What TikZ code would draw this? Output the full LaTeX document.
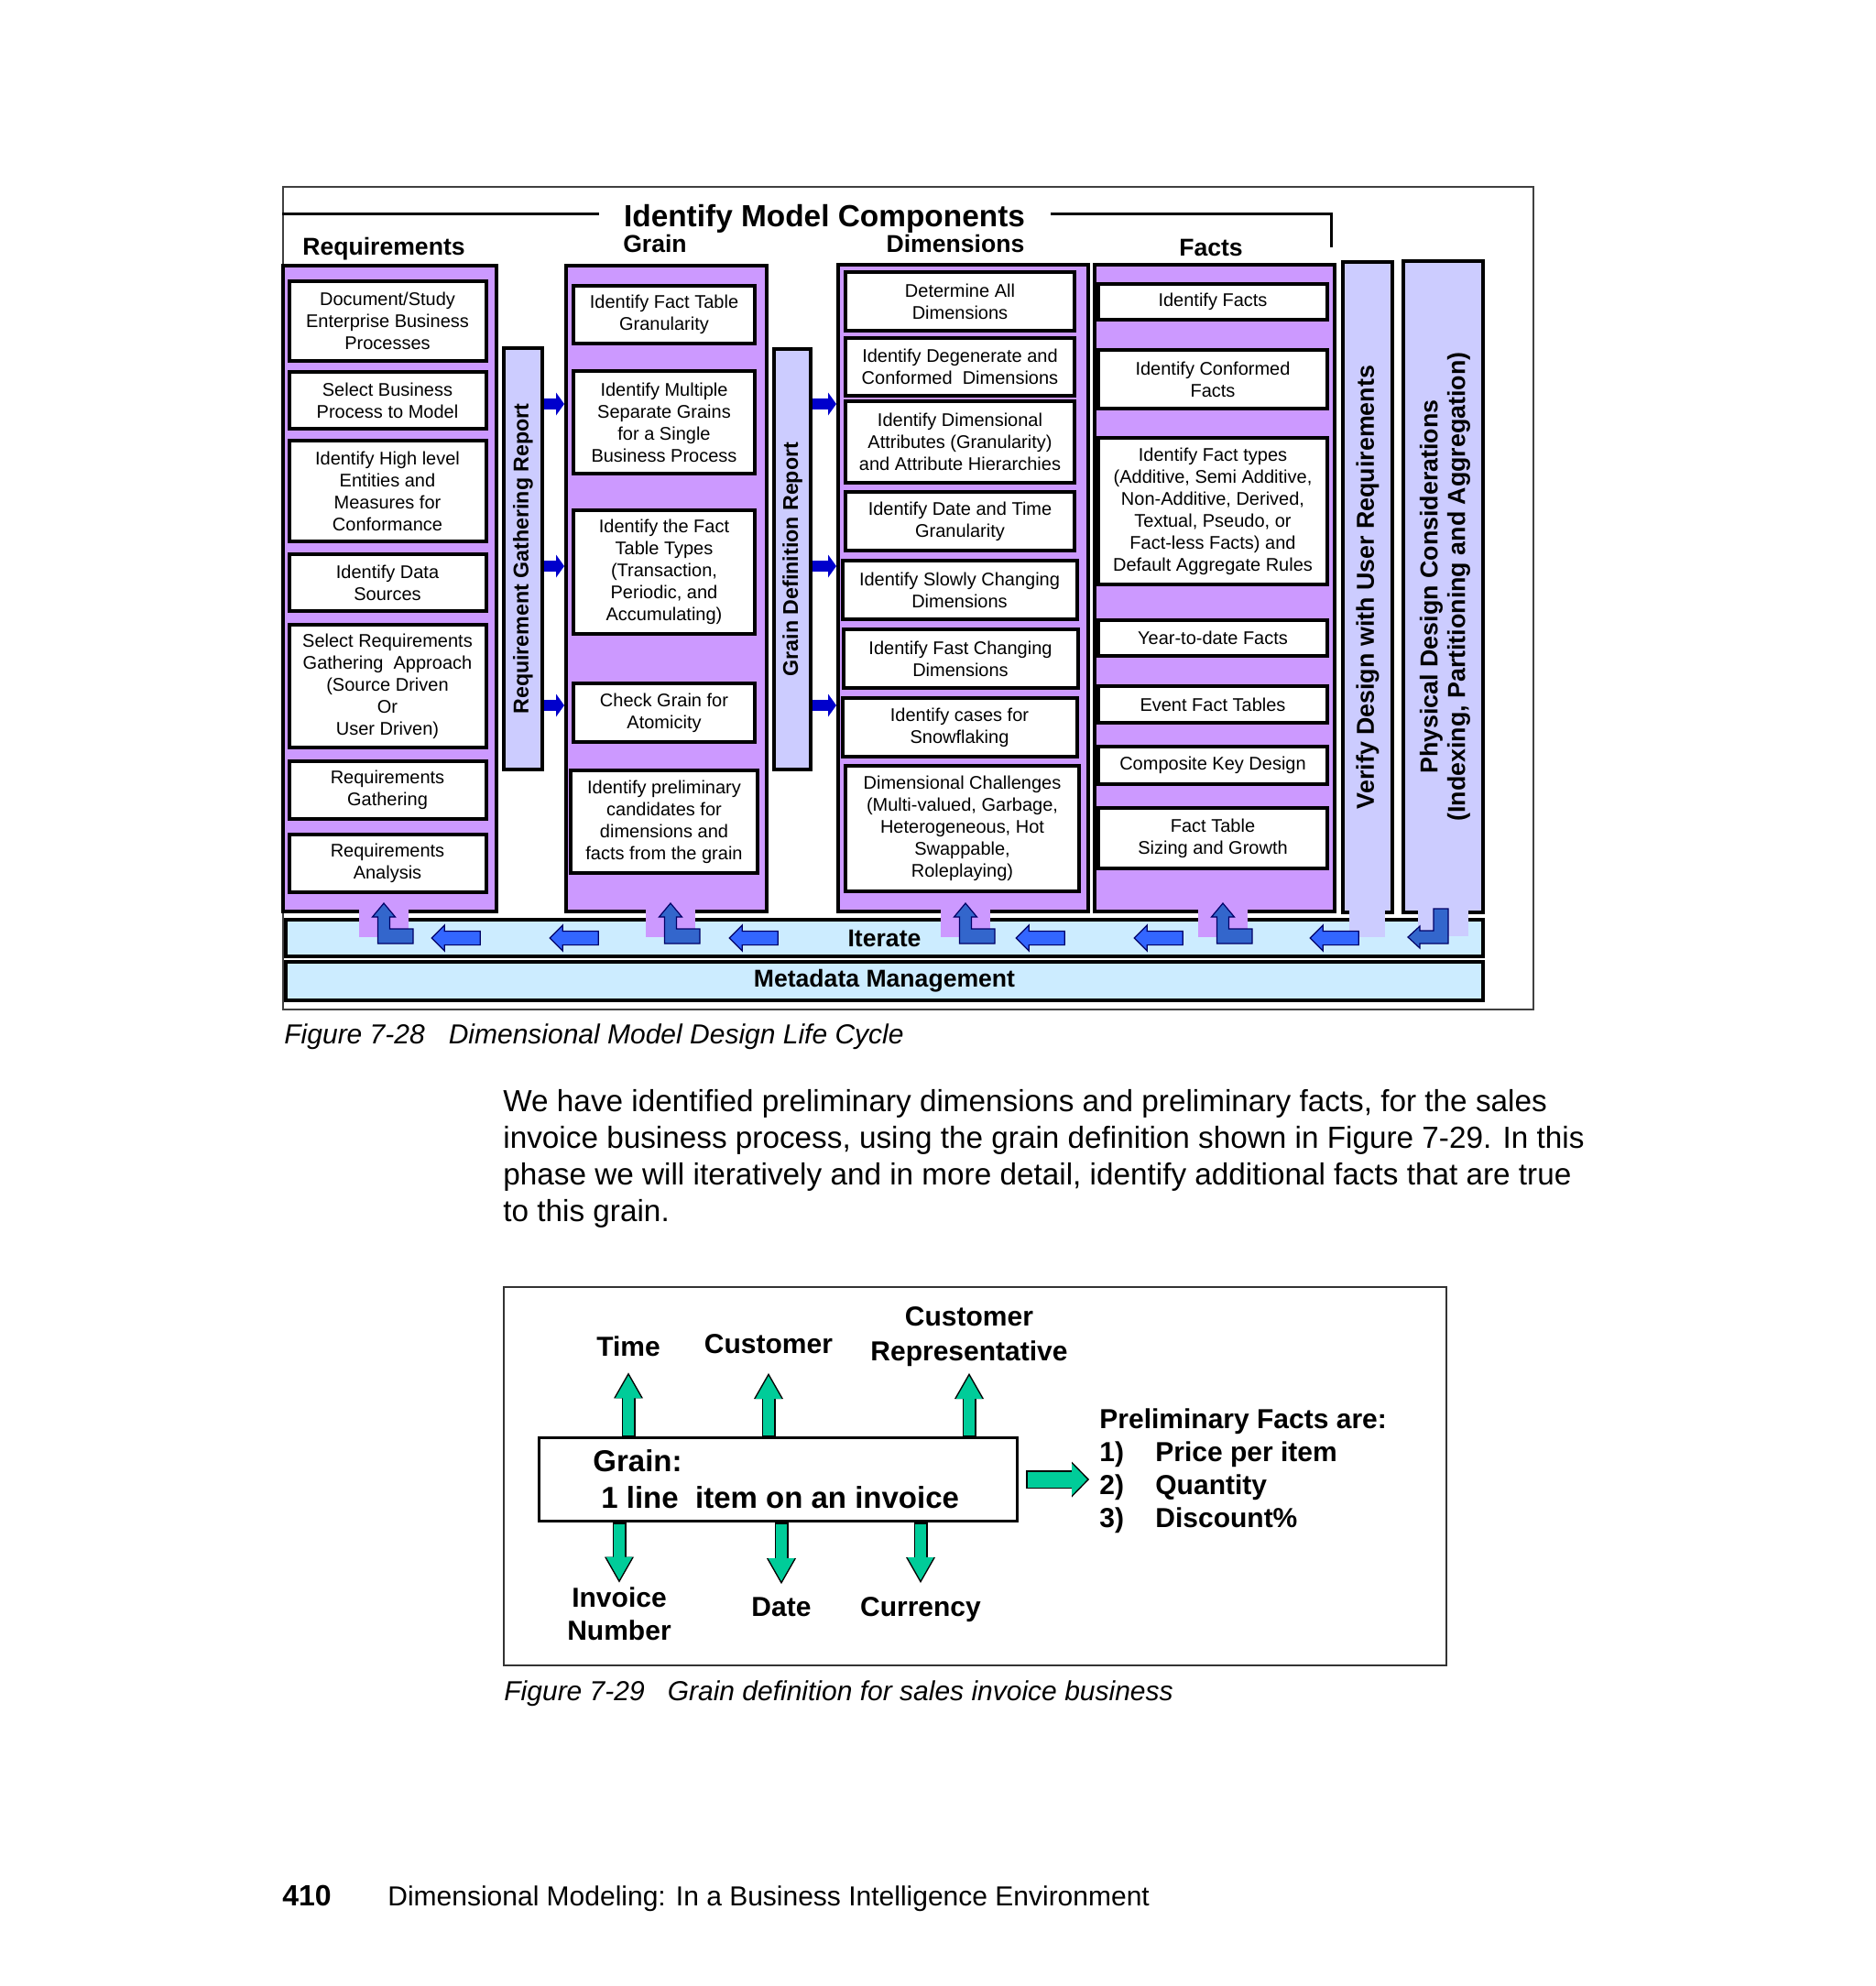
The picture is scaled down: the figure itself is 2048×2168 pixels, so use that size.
\documentclass[tikz,border=0pt]{standalone}
\usepackage{fontspec}
\setmainfont{Liberation Sans}
\usepackage{xcolor}
\usepackage{tikz}
\usetikzlibrary{shapes,arrows.meta,positioning,calc}

\definecolor{colpurple}{RGB}{204,153,255}
\definecolor{barlav}{RGB}{204,204,255}
\definecolor{itblue}{RGB}{204,236,255}
\definecolor{repblue}{RGB}{0,0,204}
\definecolor{iterarr}{RGB}{51,102,255}
\definecolor{lblue}{RGB}{51,102,204}
\definecolor{grn}{RGB}{0,204,153}

\begin{document}
\begin{tikzpicture}[
    x=0.5pt, y=-0.5pt,
    every node/.style={font=\fontsize{10}{12}\selectfont, inner sep=0pt},
    col/.style={draw, line width=2pt, fill=colpurple, anchor=north west},
    rbar/.style={draw, line width=2pt, fill=barlav, anchor=north west},
    ibar/.style={draw, line width=2pt, fill=itblue, anchor=north west},
    box/.style={draw, line width=2pt, fill=white, align=center},
    hd/.style={font=\fontsize{13.3}{16}\selectfont\bfseries, anchor=base},
    rtxt/.style={rotate=90, font=\fontsize{11.6}{14}\selectfont\bfseries},
    vtxt/.style={rotate=90, align=center, font=\fontsize{13.4}{15}\selectfont\bfseries},
    btxt/.style={font=\fontsize{13.3}{16}\selectfont\bfseries},
    lbl/.style={font=\fontsize{15}{18}\selectfont\bfseries, align=center},
    figcap/.style={font=\fontsize{15}{18}\selectfont\itshape, anchor=base west},
    lshape/.style={fill=lblue, draw=black!60!blue, line width=0.6pt},
    larr/.style={single arrow, draw=black!60!blue, line width=0.6pt, fill=iterarr,
        minimum height=26.5pt, inner xsep=0pt, inner ysep=3.5pt,
        single arrow head extend=3.25pt, shape border rotate=180},
    barr/.style={draw=repblue, line width=6pt, -{Triangle[length=4.5pt,width=12.5pt,line width=0pt]}},
    garr/.style={draw=black, line width=7.5pt, -{Triangle[length=14pt,width=16pt,line width=0pt]},
        postaction={draw=grn, line width=6pt, -{Triangle[length=12.5pt,width=14.3pt,line width=0pt]},
        shorten >=1.5pt, shorten <=0.75pt}},
    garrh/.style={draw=black, line width=10pt, -{Triangle[length=9.5pt,width=19.5pt,line width=0pt]},
        postaction={draw=grn, line width=8.5pt, -{Triangle[length=8.45pt,width=17.3pt,line width=0pt]},
        shorten >=1.05pt, shorten <=0.75pt}},
]
\useasboundingbox (0,0) rectangle (2048,2168);
\fill[white] (0,0) rectangle (2048,2168);

% Figure 7-28
\node[draw=black!75, line width=1pt, anchor=north west, minimum width=682.5pt, minimum height=449pt] (frm) at (308,203) {};
\node[font=\fontsize{16.7}{20}\selectfont\bfseries, anchor=base] (ttl) at (900,247) {Identify Model Components};
\draw[line width=1.5pt] (frm.west |- 0,233) -- (654,233);
\draw[line width=1.5pt] (1147,233) -- (1453,233) -- (1453,270);

\node[hd] (hreq) at (419,278) {Requirements};
\node[hd] (hgrn) at (715,275) {Grain};
\node[hd] (hdim) at (1043,275) {Dimensions};
\node[hd] (hfct) at (1322,279) {Facts};

\node[col, minimum width=116.5pt, minimum height=352.5pt] (reqcol) at (307,288) {};
\node[col, minimum width=109.5pt, minimum height=352.5pt] (grncol) at (616,288) {};
\node[col, minimum width=136.5pt, minimum height=353pt] (dimcol) at (913,287) {};
\node[col, minimum width=131pt, minimum height=353pt] (fctcol) at (1193,287) {};
\node[rbar, minimum width=21pt, minimum height=230pt] (rgbar) at (548,378) {};
\node[rbar, minimum width=20pt, minimum height=229.5pt] (gdbar) at (843,379) {};
\node[rbar, minimum width=27pt, minimum height=355pt] (vfbar) at (1464,284) {};
\node[rbar, minimum width=43.5pt, minimum height=355.5pt] (phbar) at (1530,283) {};
\node[ibar, minimum width=653.5pt, minimum height=20pt] (itbar) at (310,1002) {};
\node[ibar, minimum width=653.5pt, minimum height=21pt] (mdbar) at (310,1048) {};

% tabs into the iterate bar
\foreach \cx in {419,732,1054,1335}
    \fill[colpurple] (\cx-27,982) rectangle (\cx+27,1023);
\fill[barlav] (1473,988) rectangle (1512,1023);
\fill[barlav] (1548,988) rectangle (1603,1022);

% requirements
\node[box, minimum width=107.5pt, minimum height=43.5pt] (r1) at (423,350.5) {Document/Study\\Enterprise Business\\Processes};
\node[box, minimum width=107.5pt, minimum height=31pt] (r2) at (423,437) {Select Business\\Process to Model};
\node[box, minimum width=107.5pt, minimum height=55pt] (r3) at (423,536) {Identify High level\\Entities and\\Measures for\\Conformance};
\node[box, minimum width=107.5pt, minimum height=31pt] (r4) at (423,636) {Identify Data\\Sources};
\node[box, minimum width=107.5pt, minimum height=67pt] (r5) at (423,749) {Select Requirements\\Gathering~ Approach\\(Source Driven\\Or\\User Driven)};
\node[box, minimum width=107.5pt, minimum height=31.5pt] (r6) at (423,862.5) {Requirements\\Gathering};
\node[box, minimum width=107.5pt, minimum height=31.5pt] (r7) at (423,942.5) {Requirements\\Analysis};

% grain
\node[box, minimum width=99pt, minimum height=31.5pt] (g1) at (725,343.5) {Identify Fact Table\\Granularity};
\node[box, minimum width=99pt, minimum height=56pt] (g2) at (725,461) {Identify Multiple\\Separate Grains\\for a Single\\Business Process};
\node[box, minimum width=99pt, minimum height=67.5pt] (g3) at (725,624.5) {Identify the Fact\\Table Types\\(Transaction,\\Periodic, and\\Accumulating)};
\node[box, minimum width=99pt, minimum height=32pt] (g4) at (725,778) {Check Grain for\\Atomicity};
\node[box, minimum width=102pt, minimum height=56pt] (g5) at (725,897) {Identify preliminary\\candidates for\\dimensions and\\facts from the grain};

% dimensions
\node[box, minimum width=125pt, minimum height=32pt] (d1) at (1048,329) {Determine All\\Dimensions};
\node[box, minimum width=125pt, minimum height=31.5pt] (d2) at (1048,400.5) {Identify Degenerate and\\Conformed~ Dimensions};
\node[box, minimum width=125pt, minimum height=44.5pt] (d3) at (1048,482.5) {Identify Dimensional\\Attributes (Granularity)\\and Attribute Hierarchies};
\node[box, minimum width=125pt, minimum height=32pt] (d4) at (1048,569) {Identify Date and Time\\Granularity};
\node[box, minimum width=128pt, minimum height=32pt] (d5) at (1047.5,644) {Identify Slowly Changing\\Dimensions};
\node[box, minimum width=128pt, minimum height=32pt] (d6) at (1048.5,719) {Identify Fast Changing\\Dimensions};
\node[box, minimum width=128pt, minimum height=32pt] (d7) at (1047.5,794) {Identify cases for\\Snowflaking};
\node[box, minimum width=127.5pt, minimum height=68.5pt] (d8) at (1050.5,904.5) {Dimensional Challenges\\(Multi-valued, Garbage,\\Heterogeneous, Hot\\Swappable,\\Roleplaying)};

% facts
\node[box, minimum width=125pt, minimum height=19.5pt] (f1) at (1324,329.5) {Identify Facts};
\node[box, minimum width=125pt, minimum height=32pt] (f2) at (1324,414) {Identify Conformed\\Facts};
\node[box, minimum width=125pt, minimum height=80pt] (f3) at (1324,558) {Identify Fact types\\(Additive, Semi Additive,\\Non-Additive, Derived,\\Textual, Pseudo, or\\Fact-less Facts) and\\Default Aggregate Rules};
\node[box, minimum width=125pt, minimum height=19.5pt] (f4) at (1324,696.5) {Year-to-date Facts};
\node[box, minimum width=125pt, minimum height=20pt] (f5) at (1324,769) {Event Fact Tables};
\node[box, minimum width=125pt, minimum height=20.5pt] (f6) at (1324,835.5) {Composite Key Design};
\node[box, minimum width=125pt, minimum height=33pt] (f7) at (1324,915) {Fact Table\\Sizing and Growth};

% report bars feed the next column
\node[rtxt] (rgtxt) at (rgbar.center) {Requirement Gathering Report};
\node[rtxt] (gdtxt) at (gdbar.center) {Grain Definition Report};
\node[vtxt] (vftxt) at (vfbar.center) {Verify Design with User Requirements};
\node[vtxt] (phtxt) at ([xshift=1pt]phbar.center) {Physical Design Considerations\\(Indexing, Partitioning and Aggregation)};
\foreach \yy in {441,618,770} {
    \draw[barr] (rgbar.east |- 0,\yy) -- (grncol.west |- 0,\yy);
    \draw[barr] (gdbar.east |- 0,\yy) -- (dimcol.west |- 0,\yy);
}

% iterate
\node[btxt] (ittxt) at (itbar.center) {Iterate};
\node[btxt] (mdtxt) at (mdbar.center) {Metadata Management};
\foreach \cx in {419,732,1054,1335}
    \filldraw[lshape] (\cx,986) -- ++(12.5,15) -- ++(-6,0) -- ++(0,13) -- ++(25.5,0) -- ++(0,16)
        -- ++(-38.5,0) -- ++(0,-29) -- ++(-6,0) -- cycle;
\filldraw[lshape] (1565,992) -- (1581,992) -- (1581,1030) -- (1550,1030) -- (1550,1035)
    -- (1537,1023) -- (1550,1011) -- (1550,1016) -- (1565,1016) -- cycle;
\foreach \xx [count=\i] in {501.5,630.5,826.5,1139.5,1268.5,1460.5}
    \node[larr] (la\i) at (\xx,1024) {};

\node[figcap] (cap1) at (310,1139) {Figure 7-28\hspace{13pt}Dimensional Model Design Life Cycle};

% text
\node[anchor=north west, align=left, font=\fontsize{16.65}{20}\selectfont] (para) at (549,1189)
    {We have identified preliminary dimensions and preliminary facts, for the sales\\
     invoice business process, using the grain definition shown in Figure 7-29. In this\\
     phase we will iteratively and in more detail, identify additional facts that are true\\
     to this grain.};

% Figure 7-29
\node[draw=black!80, line width=1pt, anchor=north west, minimum width=514.5pt, minimum height=206.5pt] (frm2) at (549,1404) {};
\node[draw, line width=1.5pt, fill=white, anchor=north west, minimum width=261pt, minimum height=45.5pt] (gbox) at (587,1568) {};
\node[font=\fontsize{16.5}{20}\selectfont\bfseries, anchor=base west] (gt1) at (647,1606) {Grain:};
\node[font=\fontsize{16.5}{20}\selectfont\bfseries, anchor=base west] (gt2) at (656,1646) {1 line~ item on an invoice};

\node[lbl] (tm) at (686,1470) {Time};
\node[lbl] (cu) at (839,1467) {Customer};
\node[lbl, font=\fontsize{15}{19}\selectfont\bfseries] (cr) at (1058,1459) {Customer\\Representative};
\node[lbl] (iv) at (676,1762) {Invoice\\Number};
\node[lbl] (dt) at (853,1754) {Date};
\node[lbl] (cy) at (1005,1757) {Currency};
\node[lbl, align=left, anchor=north west] (pf) at (1200,1537)
    {Preliminary Facts are:\\\makebox[30.5pt][l]{1)}Price per item\\\makebox[30.5pt][l]{2)}Quantity\\\makebox[30.5pt][l]{3)}Discount\%};

\draw[garr] (gbox.north -| tm) -- ([yshift=-8.5pt]tm.south);
\draw[garr] (gbox.north -| cu) -- ([yshift=-10.5pt]cu.south);
\draw[garr] (gbox.north -| cr) -- ([yshift=-3.5pt]cr.south);
\draw[garr] (gbox.south -| iv) -- ([yshift=2.5pt]iv.north);
\draw[garr] (gbox.south -| dt) -- ([yshift=7pt]dt.north);
\draw[garr] (gbox.south -| cy) -- ([yshift=7.5pt]cy.north);
\draw[garrh] ([xshift=4pt]gbox.east) -- ([xshift=-5.5pt]gbox.east -| pf.west);

\node[figcap] (cap2) at (550,1856) {Figure 7-29\hspace{12.5pt}Grain definition for sales invoice business};

% footer
\node[anchor=base west, font=\fontsize{16}{19}\selectfont\bfseries] (pgno) at (308,2080) {410};
\node[anchor=base west, font=\fontsize{15}{18}\selectfont] (ftr) at (423,2080) {Dimensional Modeling: In a Business Intelligence Environment};
\end{tikzpicture}
\end{document}
